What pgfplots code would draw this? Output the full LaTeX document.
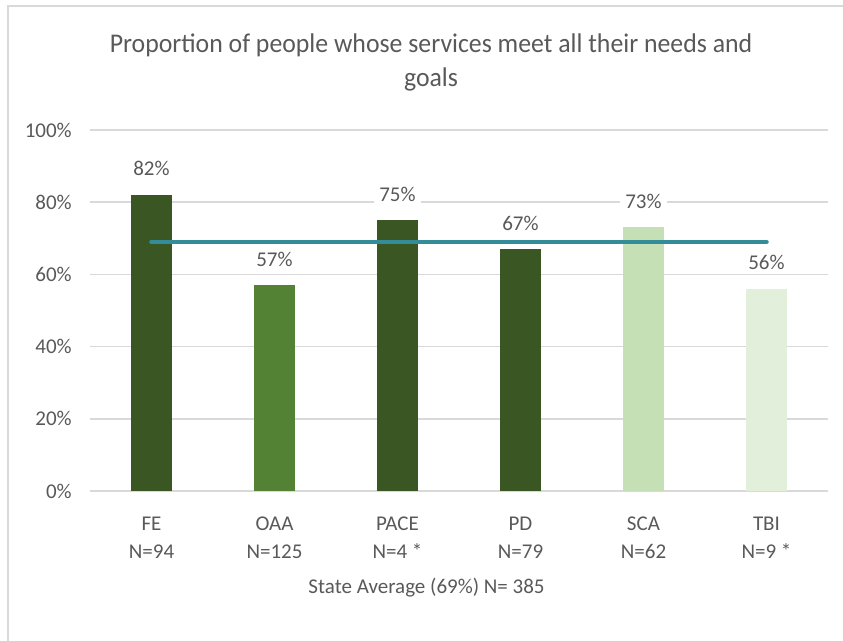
\documentclass[border=0pt]{standalone}
\usepackage{fontspec}
\setmainfont{Carlito}
\newfontfamily\titlefont[FakeStretch=0.955]{Carlito}
\usepackage{pgfplots}
\pgfplotsset{compat=1.18}
\definecolor{dkgreen}{HTML}{3A5623}
\definecolor{midgreen}{HTML}{548235}
\definecolor{ltgreen}{HTML}{C5E0B4}
\definecolor{vltgreen}{HTML}{E2EFDA}
\definecolor{avgline}{HTML}{338C98}
\definecolor{gridgray}{HTML}{D9D9D9}
\definecolor{txt}{HTML}{595959}
\pgfplotsset{
  barlbl/.style={
    ybar, bar width=30.75pt, bar shift=0pt, draw=none,
    nodes near coords={\pgfmathprintnumber{\pgfplotspointmeta}\%},
    every node near coord/.append style={font=\fontsize{15.75}{19}\selectfont, text=txt,
      fill=white, inner xsep=4pt, inner ysep=3pt, anchor=south, yshift=11pt},
  }
}
\begin{document}
\begin{tikzpicture}
\path[use as bounding box] (0,0) rectangle (632.25pt,480.75pt);
\draw[gridgray, line width=1.2pt] (6pt,0) -- (6pt,476.25pt) -- (640pt,476.25pt);
\begin{axis}[
  at={(67.5pt,112.5pt)}, anchor=south west,
  scale only axis, width=553.5pt, height=270.75pt,
  xmin=-0.5, xmax=5.5, ymin=0, ymax=100,
  clip=false,
  /pgf/number format/assume math mode=true,
  axis line style={draw=none},
  major tick length=0pt,
  ymajorgrids, major grid style={gridgray, line width=1.2pt},
  ytick={0,20,40,60,80,100},
  yticklabel={\pgfmathprintnumber{\tick}\%},
  yticklabel style={font=\fontsize{15.75}{19}\selectfont, text=txt, anchor=east, inner sep=0pt, xshift=-13.5pt},
  xtick={0,1,2,3,4,5},
  xticklabels={{FE\\N=94},{OAA\\N=125},{PACE\\N=4 *},{PD\\N=79},{SCA\\N=62},{TBI\\N=9 *}},
  xticklabel style={font=\fontsize{15.75}{21.5}\selectfont, text=txt, align=center, anchor=north, inner sep=0pt, yshift=-19pt},
]
\addplot[barlbl, fill=dkgreen] coordinates {(0,82)};
\addplot[barlbl, fill=midgreen] coordinates {(1,57)};
\addplot[barlbl, fill=dkgreen] coordinates {(2,75)};
\addplot[barlbl, fill=dkgreen] coordinates {(3,67)};
\addplot[barlbl, fill=ltgreen] coordinates {(4,73)};
\addplot[barlbl, fill=vltgreen] coordinates {(5,56)};
\addplot[avgline, line width=3.4pt, line cap=round, mark=none] coordinates {(0,69) (5,69)};
\end{axis}
\node[anchor=base, text=txt, font=\titlefont\fontsize{20.25}{24}\selectfont, inner sep=0pt] at (323.25pt,441.2pt) {Proportion of people whose services meet all their needs and};
\node[anchor=base, text=txt, font=\titlefont\fontsize{20.25}{24}\selectfont, inner sep=0pt] at (323.25pt,415.7pt) {goals};
\node[anchor=base, text=txt, font=\fontsize{15.75}{19}\selectfont, inner sep=0pt] at (319.9pt,35.8pt) {State Average (69\%) N= 385};
\end{tikzpicture}
\end{document}
